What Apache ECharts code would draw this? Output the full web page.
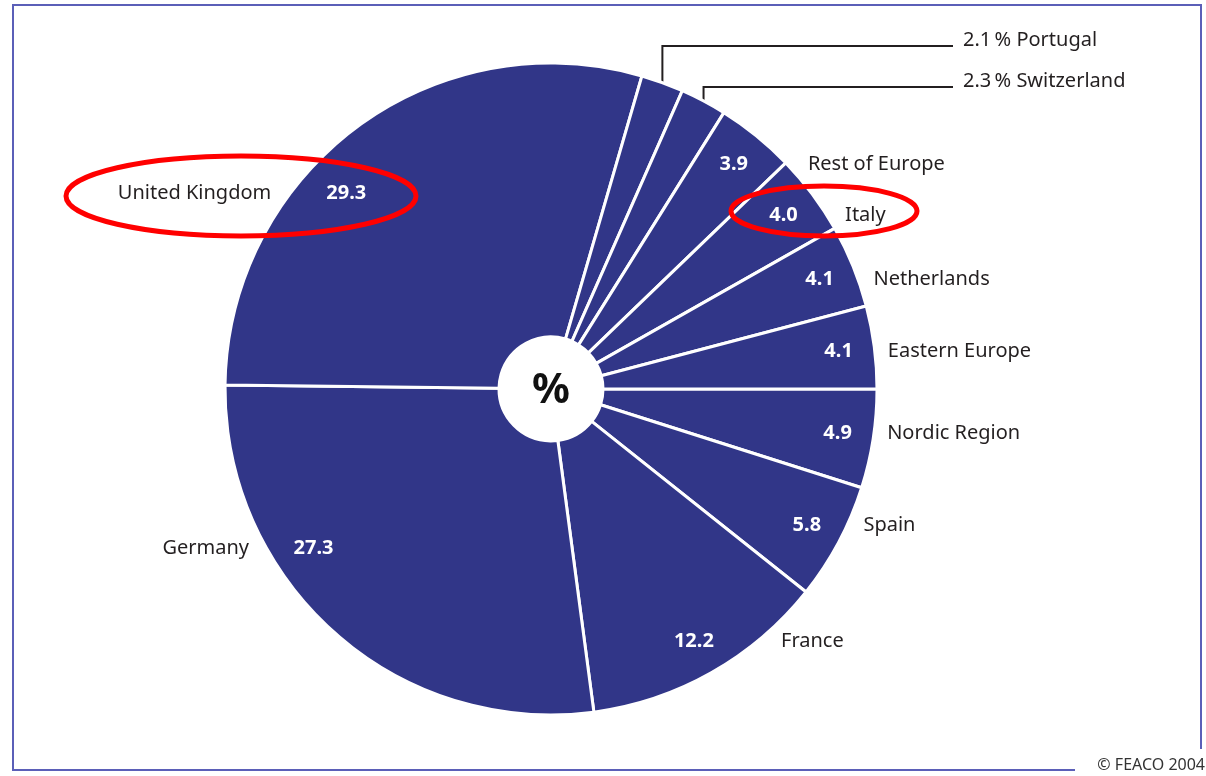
<!DOCTYPE html>
<html>
<head>
<meta charset="utf-8">
<script src="https://cdn.jsdelivr.net/npm/echarts@6/dist/echarts.min.js"></script>
<style>
html, body { margin: 0; padding: 0; background: #fff; }
#chart { width: 1206px; height: 776px; }
</style>
</head>
<body>
<div id="chart"></div>
<script>
// shares of European consulting turnover, %, clockwise from 3 o'clock
var regions = ['Nordic Region', 'Spain', 'France', 'Germany', 'United Kingdom', 'Portugal',
               'Switzerland', 'Rest of Europe', 'Italy', 'Netherlands', 'Eastern Europe'];
var shares = [4.9, 5.8, 12.2, 27.3, 29.3, 2.1, 2.3, 3.9, 4.0, 4.1, 4.1];
var calloutRegions = ['Portugal', 'Switzerland'];
var sourceNote = '\u00a9 FEACO 2004';

// geometry
var cx = 551, cy = 389, outerR = 326, holeR = 52, labelR = 287;
var ringInner = 2 * labelR - outerR;   // inside labels of the ring sit at labelR
var nameGap = 12, nameHalfH = 10;
var calloutX = 963, calloutTop = 40, calloutStep = 41;
var labelShift = { 'United Kingdom': [-32, 37], 'Germany': [-45, -58] };
var fontFam = '"Noto Sans", "DejaVu Sans", sans-serif';
var pieBlue = '#313688';

function shiftOf(i) { return labelShift[regions[i]] || [0, 0]; }
function isCallout(i) { return calloutRegions.indexOf(regions[i]) >= 0; }

var myChart = echarts.init(document.getElementById('chart'));

var baseData = regions.map(function(n, i) {
    return { name: n, value: shares[i], label: { show: isCallout(i) }, labelLine: { show: isCallout(i) } };
});
var ringData = regions.map(function(n, i) {
    return { name: n, value: shares[i], label: { show: !isCallout(i) } };
});

var option = {
    animation: false,
    backgroundColor: '#fff',
    series: [
        {
            type: 'pie',
            center: [cx, cy],
            radius: [holeR, outerR],
            startAngle: 0,
            clockwise: true,
            avoidLabelOverlap: false,
            emphasis: { disabled: true },
            itemStyle: { color: pieBlue, borderColor: '#fff', borderWidth: 3 },
            label: {
                position: 'outside',
                fontFamily: fontFam,
                fontSize: 20,
                color: '#231f20',
                formatter: function(p) { return p.value.toFixed(1) + '\u2009% ' + p.name; }
            },
            labelLine: { lineStyle: { color: '#231f20', width: 2 } },
            labelLayout: function(p) {
                var k = calloutRegions.indexOf(regions[p.dataIndex]);
                if (k < 0) return {};
                var y = calloutTop + k * calloutStep;
                var start = p.labelLinePoints ? p.labelLinePoints[0] : [cx, cy];
                return {
                    x: calloutX, y: y, align: 'left', verticalAlign: 'middle',
                    labelLinePoints: [[start[0], start[1]], [start[0], y + 6], [calloutX - 10, y + 6]]
                };
            },
            data: baseData
        },
        {
            // value labels
            type: 'pie',
            silent: true,
            center: [cx, cy],
            radius: [ringInner, outerR],
            startAngle: 0,
            clockwise: true,
            avoidLabelOverlap: false,
            emphasis: { disabled: true },
            itemStyle: { color: 'transparent' },
            label: {
                position: 'inside',
                fontFamily: fontFam,
                fontSize: 20,
                fontWeight: 'bold',
                color: '#fff',
                formatter: function(p) { return p.value.toFixed(1); }
            },
            labelLayout: function(p) {
                var s = shiftOf(p.dataIndex);
                return { dx: s[0], dy: s[1] };
            },
            data: ringData
        },
        {
            // region names, just outside the rim on the same line as the value
            type: 'pie',
            silent: true,
            center: [cx, cy],
            radius: [ringInner, outerR],
            startAngle: 0,
            clockwise: true,
            avoidLabelOverlap: false,
            emphasis: { disabled: true },
            itemStyle: { color: 'transparent' },
            label: {
                position: 'inside',
                fontFamily: fontFam,
                fontSize: 20,
                color: '#231f20',
                formatter: '{b}'
            },
            labelLayout: function(p) {
                var s = shiftOf(p.dataIndex);
                var r = p.labelRect;
                var midX = r.x + r.width / 2 + s[0];
                var y = r.y + r.height / 2 + s[1];
                var right = midX >= cx;
                var yNear = y + (y < cy ? nameHalfH : -nameHalfH);
                var half = Math.sqrt(Math.max(0, outerR * outerR - (yNear - cy) * (yNear - cy)));
                return {
                    x: right ? cx + half + nameGap : cx - half - nameGap,
                    y: y,
                    align: right ? 'left' : 'right',
                    verticalAlign: 'middle'
                };
            },
            data: ringData
        }
    ],
    graphic: [
        {
            type: 'text', silent: true, z: 100,
            x: cx, y: cy + 2,
            style: { text: '%', fontFamily: fontFam, fontSize: 42, fontWeight: 'bold',
                     fill: '#111', align: 'center', verticalAlign: 'middle' }
        },
        {
            type: 'polyline', silent: true, z: 100,
            shape: { points: [[1075, 770], [13, 770], [13, 5], [1201, 5], [1201, 749]] },
            style: { stroke: '#5b5fb8', lineWidth: 2, fill: null }
        },
        {
            type: 'text', silent: true, z: 100,
            x: 1205, y: 765,
            style: { text: sourceNote, fontFamily: fontFam, fontSize: 16, fill: '#333',
                     align: 'right', verticalAlign: 'middle' }
        },
        {
            type: 'ellipse', silent: true, z: 100,
            shape: { cx: 241, cy: 196, rx: 175, ry: 40 },
            style: { stroke: '#f00', lineWidth: 5, fill: null }
        },
        {
            type: 'ellipse', silent: true, z: 100,
            shape: { cx: 824, cy: 211, rx: 93, ry: 25 },
            style: { stroke: '#f00', lineWidth: 5, fill: null }
        }
    ]
};
myChart.setOption(option);
</script>
</body>
</html>
